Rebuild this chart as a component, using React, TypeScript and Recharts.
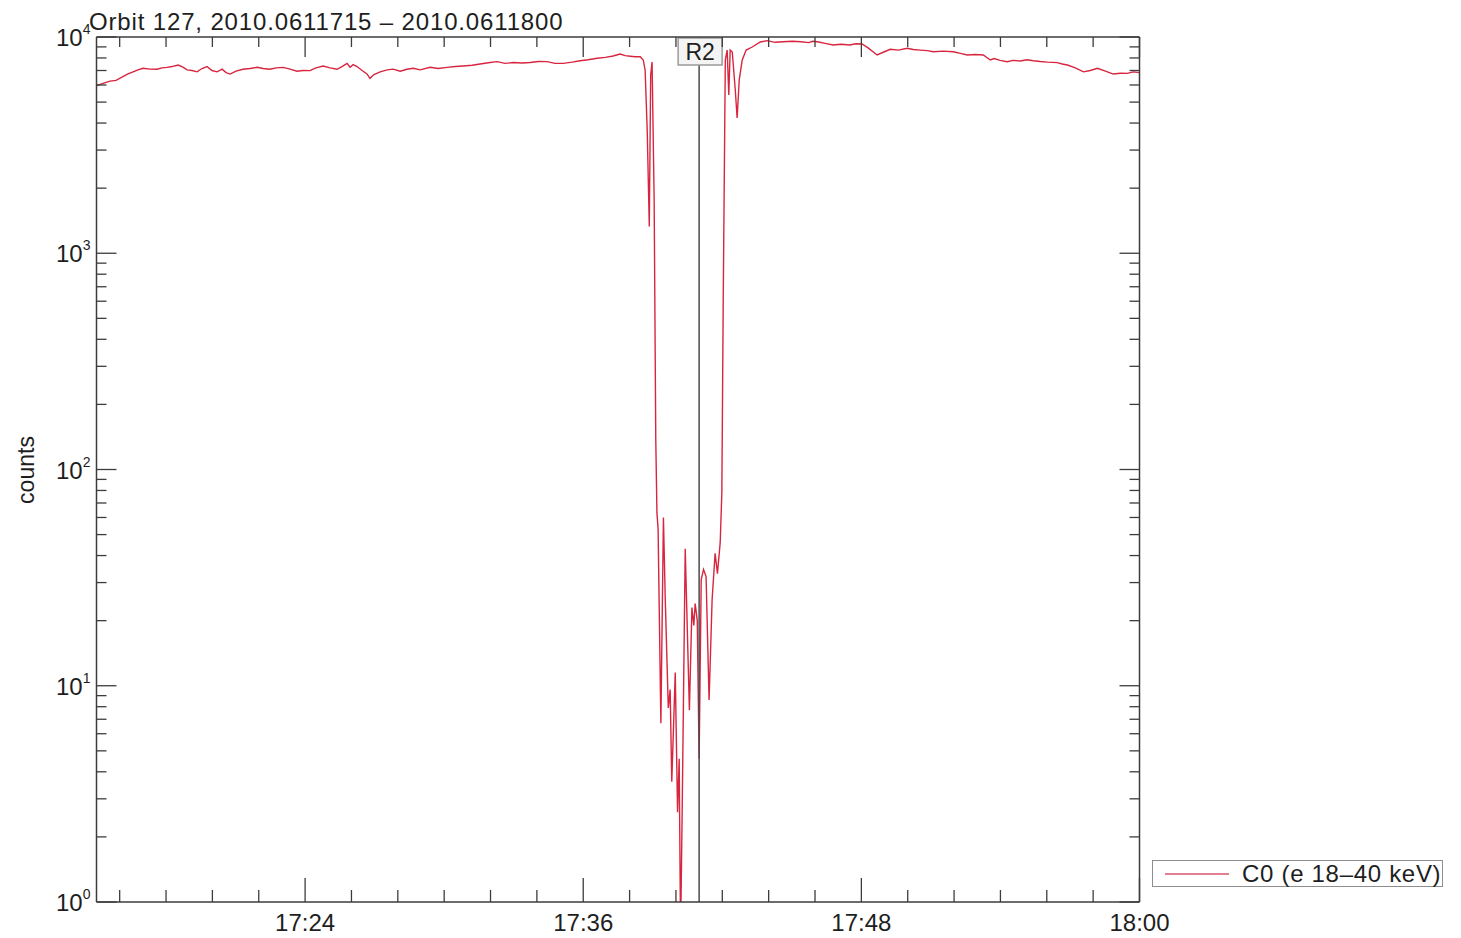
import React from 'react';
import { LineChart, Line, XAxis, YAxis, ReferenceLine, Legend } from 'recharts';

// time in minutes after 17:15 UT, counts
const preDip: [number, number][] = [
  [0, 5950], [0.28, 6100], [0.58, 6250], [0.84, 6300], [1.14, 6550], [1.36, 6750], [1.58, 6900],
  [1.79, 7050], [2.01, 7170], [2.31, 7100], [2.61, 7090], [2.83, 7200], [3.04, 7240], [3.26, 7300],
  [3.52, 7420], [3.73, 7250], [3.91, 7050], [4.12, 7000], [4.34, 6900], [4.55, 7150], [4.77, 7300],
  [4.98, 7000], [5.2, 6900], [5.42, 7100], [5.59, 6850], [5.76, 6740], [6.02, 6950], [6.32, 7090],
  [6.63, 7150], [6.93, 7240], [7.19, 7150], [7.49, 7090], [7.75, 7200], [8.05, 7240], [8.35, 7100],
  [8.65, 6950], [8.91, 7000], [9.21, 6990], [9.47, 7200], [9.78, 7340], [10.08, 7200], [10.38, 7090],
  [10.59, 7300], [10.81, 7550], [10.94, 7250], [11.07, 7450], [11.24, 7300], [11.46, 7000],
  [11.67, 6750], [11.8, 6440], [11.97, 6700], [12.24, 6900], [12.54, 7050], [12.8, 7100],
  [13.1, 6950], [13.4, 7090], [13.67, 7170], [13.97, 7050], [14.39, 7240], [14.74, 7150],
  [15.13, 7240], [15.48, 7300], [15.82, 7340], [16.21, 7400], [16.55, 7500], [16.9, 7600],
  [17.28, 7690], [17.63, 7550], [17.98, 7620], [18.36, 7580], [18.71, 7620], [19.06, 7700],
  [19.44, 7690], [19.79, 7550], [20.14, 7550], [20.52, 7650], [20.87, 7770], [21.21, 7850],
  [21.6, 7970], [21.95, 8050], [22.29, 8170], [22.59, 8340], [22.81, 8200], [23.03, 8150],
  [23.24, 8100],
];

const dip: [number, number][] = [
  [23.46, 8100], [23.59, 7830], [23.67, 7040], [23.76, 3720], [23.85, 1330], [23.91, 6670],
  [23.97, 7660], [24.06, 1760], [24.13, 137], [24.18, 63], [24.23, 53], [24.35, 6.7], [24.46, 60],
  [24.54, 25], [24.67, 7.9], [24.75, 9.6], [24.82, 3.6], [24.97, 11.5], [25.07, 2.6], [25.14, 4.6],
  [25.2, 0.7], [25.27, 2.7], [25.4, 43], [25.58, 7.7], [25.69, 23], [25.77, 19], [25.83, 24],
  [25.92, 20], [26.0, 4.6], [26.09, 31], [26.19, 34.5], [26.3, 32], [26.43, 8.6], [26.56, 25],
  [26.69, 41], [26.79, 33], [26.91, 46], [26.98, 78], [27.04, 610], [27.13, 7830], [27.21, 8700],
  [27.28, 5400], [27.34, 8700], [27.43, 8520], [27.56, 5690], [27.64, 4220], [27.73, 6330],
  [27.86, 7830], [28.03, 8700], [28.29, 8990], [28.64, 9480],
];

const postDip: [number, number][] = [
  [28.93, 9620], [29.28, 9450], [29.63, 9510], [30.02, 9550], [30.39, 9500], [30.73, 9420],
  [30.9, 9550], [31.1, 9510], [31.44, 9350], [31.78, 9180], [32.13, 9250], [32.5, 9180],
  [32.76, 9300], [33.03, 9280], [33.29, 8900], [33.68, 8255], [33.94, 8500], [34.25, 8770],
  [34.59, 8700], [34.98, 8870], [35.24, 8750], [35.54, 8700], [35.84, 8650], [36.1, 8550],
  [36.53, 8600], [36.97, 8550], [37.27, 8400], [37.57, 8255], [37.92, 8300], [38.26, 8255],
  [38.56, 7830], [38.73, 7950], [38.99, 7800], [39.29, 7690], [39.55, 7800], [39.85, 7750],
  [40.16, 7850], [40.42, 7770], [40.72, 7700], [41.02, 7650], [41.45, 7610], [41.67, 7500],
  [41.89, 7420], [42.23, 7200], [42.58, 6900], [42.88, 7000], [43.18, 7170], [43.53, 6950],
  [43.87, 6740], [44.17, 6800], [44.47, 6790], [44.73, 6900], [45, 6840],
];

const xTicks = [1, 3, 5, 7, 9, 11, 13, 15, 17, 19, 21, 23, 25, 27, 29, 31, 33, 35, 37, 39, 41, 43, 45];
const xMajor = [9, 21, 33, 45];
const yDecades = [1, 10, 100, 1000, 10000];
const yMinorFactors = [2, 3, 4, 5, 6, 7, 8, 9];
const r2Time = 26.0;
const title = 'Orbit 127, 2010.0611715 – 2010.0611800';
const seriesName = 'C0 (e 18–40 keV)';
const yLabel = 'counts';

const data = [...preDip, ...dip, ...postDip].map(([t, v]) => ({ t, v }));
const yTicks: number[] = [];
yDecades.forEach((d, i) => {
  yTicks.push(d);
  if (i < yDecades.length - 1) yMinorFactors.forEach((f) => yTicks.push(d * f));
});

const FONT = '"Liberation Sans", Arial, Helvetica, sans-serif';
const AXIS = '#3c3c3c';
const TEXT = '#1e1e1e';
const LINE = '#d8253f';

const W = 1453;
const H = 930;

const fmtTime = (t: number) => {
  const total = 17 * 60 + 15 + t;
  const h = Math.floor(total / 60);
  const m = Math.round(total - h * 60);
  return `${h}:${m.toString().padStart(2, '0')}`;
};

const isDecade = (v: number) => yDecades.some((d) => Math.abs(d - v) < 1e-9);

const BottomTick = (props: any) => {
  const { x, y, payload } = props;
  const major = xMajor.includes(payload.value);
  return (
    <g>
      <line x1={x} y1={y} x2={x} y2={y - (major ? 24 : 12)} stroke={AXIS} strokeWidth={1.3} />
      {major && (
        <text x={x} y={y + 29} textAnchor="middle" fontSize={24} fontFamily={FONT} fill={TEXT}>
          {fmtTime(payload.value)}
        </text>
      )}
    </g>
  );
};

const TopTick = (props: any) => {
  const { x, y, payload } = props;
  const major = xMajor.includes(payload.value);
  return <line x1={x} y1={y} x2={x} y2={y + (major ? 20 : 10)} stroke={AXIS} strokeWidth={1.3} />;
};

const LeftTick = (props: any) => {
  const { x, y, payload } = props;
  const major = isDecade(payload.value);
  const exp = Math.round(Math.log10(payload.value));
  return (
    <g>
      <line x1={x} y1={y} x2={x + (major ? 20 : 10)} y2={y} stroke={AXIS} strokeWidth={1.3} />
      {major && (
        <text x={x - 6} y={y + 9} textAnchor="end" fontSize={24} fontFamily={FONT} fill={TEXT}>
          10
          <tspan dy={-12} fontSize={14}>
            {exp}
          </tspan>
        </text>
      )}
    </g>
  );
};

const RightTick = (props: any) => {
  const { x, y, payload } = props;
  const major = isDecade(payload.value);
  return <line x1={x} y1={y} x2={x - (major ? 20 : 10)} y2={y} stroke={AXIS} strokeWidth={1.3} />;
};

const R2Label = (props: any) => {
  const vb = props.viewBox || {};
  const x = vb.x ?? 0;
  const y = vb.y ?? 0;
  return (
    <g>
      <rect x={x - 21} y={y + 1} width={44} height={27} fill="#f4f4f4" stroke="#9a9a9a" strokeWidth={1.5} />
      <text x={x + 1} y={y + 23} textAnchor="middle" fontSize={23} fontFamily={FONT} fill={TEXT}>
        R2
      </text>
    </g>
  );
};

const LegendBox = () => (
  <div
    style={{
      boxSizing: 'border-box',
      width: 291,
      height: 27,
      border: '1.5px solid #8e8e8e',
      background: '#fff',
      display: 'flex',
      alignItems: 'center',
      fontFamily: FONT,
      fontSize: 24,
      color: TEXT,
      whiteSpace: 'nowrap',
    }}
  >
    <svg width={89} height={24} style={{ flex: 'none' }}>
      <line x1={12} y1={12} x2={76} y2={12} stroke="#d9566c" strokeWidth={1.5} />
    </svg>
    <span style={{ lineHeight: '24px', letterSpacing: 0.7 }}>{seriesName}</span>
  </div>
);

export default function App() {
  return (
    <div style={{ position: 'relative', width: W, height: H }}>
      <LineChart width={W} height={H} data={data} margin={{ top: 28, right: 320.5, bottom: 0, left: 0 }}>
        <XAxis
          xAxisId="bottom"
          dataKey="t"
          type="number"
          domain={[0, 45]}
          ticks={xTicks}
          interval={0}
          orientation="bottom"
          height={36}
          tickSize={0}
          tickMargin={0}
          tickLine={false}
          axisLine={{ stroke: AXIS, strokeWidth: 1.5 }}
          tick={<BottomTick />}
          allowDataOverflow
        />
        <XAxis
          xAxisId="top"
          dataKey="t"
          type="number"
          domain={[0, 45]}
          ticks={xTicks}
          interval={0}
          orientation="top"
          height={1}
          tickSize={0}
          tickMargin={0}
          tickLine={false}
          axisLine={{ stroke: AXIS, strokeWidth: 1.5 }}
          tick={<TopTick />}
          allowDataOverflow
        />
        <YAxis
          yAxisId="left"
          scale="log"
          type="number"
          domain={[1, 10000]}
          ticks={yTicks}
          interval={0}
          width={88.5}
          tickSize={0}
          tickMargin={0}
          tickLine={false}
          axisLine={{ stroke: AXIS, strokeWidth: 1.5 }}
          tick={<LeftTick />}
          allowDataOverflow
        />
        <YAxis
          yAxisId="right"
          orientation="right"
          scale="log"
          type="number"
          domain={[1, 10000]}
          ticks={yTicks}
          interval={0}
          width={1}
          tickSize={0}
          tickMargin={0}
          tickLine={false}
          axisLine={{ stroke: AXIS, strokeWidth: 1.5 }}
          tick={<RightTick />}
          allowDataOverflow
        />
        <Line
          xAxisId="bottom"
          yAxisId="left"
          type="linear"
          dataKey="v"
          name={seriesName}
          stroke={LINE}
          strokeWidth={1.4}
          dot={false}
          activeDot={false}
          isAnimationActive={false}
        />
        <ReferenceLine
          xAxisId="bottom"
          yAxisId="left"
          x={r2Time}
          stroke="#4a4a4a"
          strokeWidth={1.5}
          label={<R2Label />}
        />
        <Legend
          layout="horizontal"
          verticalAlign="middle"
          align="center"
          wrapperStyle={{ left: 1144, top: 852, width: 291, height: 27 }}
          content={<LegendBox />}
        />
      </LineChart>
      <svg
        width={W}
        height={H}
        style={{ position: 'absolute', left: 0, top: 0, pointerEvents: 'none' }}
      >
        <text x={81} y={22} fontSize={24} fontFamily={FONT} fill={TEXT} letterSpacing={0.85}>
          {title}
        </text>
        <text
          x={0}
          y={0}
          transform="translate(18 462) rotate(-90)"
          textAnchor="middle"
          dominantBaseline="central"
          fontSize={23}
          fontFamily={FONT}
          fill={TEXT}
        >
          {yLabel}
        </text>
      </svg>
    </div>
  );
}
